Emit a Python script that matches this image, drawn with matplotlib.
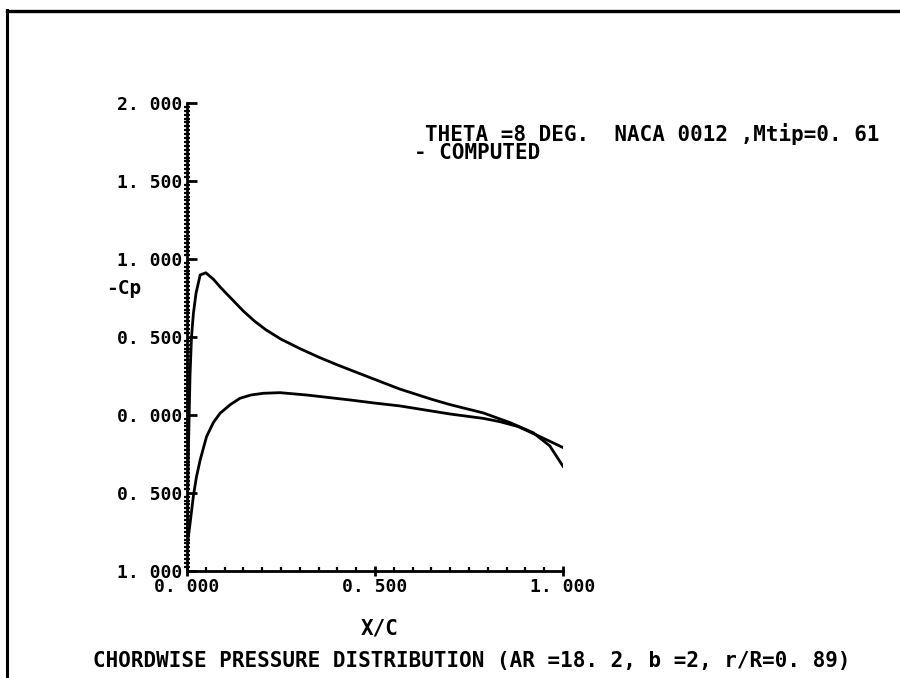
import numpy as np
import matplotlib.pyplot as plt
from matplotlib.lines import Line2D
from matplotlib.ticker import MultipleLocator, FixedLocator

# -Cp along the chord, upper and lower surface
x_upper = [0.0, 0.004, 0.008, 0.012, 0.017, 0.024, 0.035, 0.05, 0.07, 0.09,
           0.12, 0.15, 0.18, 0.21, 0.25, 0.30, 0.35, 0.40, 0.48, 0.566,
           0.65, 0.70, 0.788, 0.859, 0.921, 0.965, 1.0]
cp_upper = [-0.75, -0.2, 0.25, 0.5, 0.65, 0.78, 0.897, 0.911, 0.87, 0.815,
            0.74, 0.665, 0.60, 0.545, 0.485, 0.425, 0.37, 0.32, 0.245, 0.165,
            0.10, 0.065, 0.012, -0.05, -0.115, -0.2, -0.33]

x_lower = [0.0, 0.008, 0.017, 0.025, 0.035, 0.052, 0.07, 0.088, 0.115, 0.141,
           0.17, 0.203, 0.247, 0.318, 0.38, 0.434, 0.50, 0.566, 0.70, 0.788,
           0.832, 0.88, 0.93, 1.0]
cp_lower = [-0.85, -0.7, -0.52, -0.4, -0.29, -0.14, -0.05, 0.01, 0.065, 0.106,
            0.127, 0.138, 0.142, 0.127, 0.110, 0.095, 0.075, 0.057, 0.005, -0.023,
            -0.044, -0.075, -0.13, -0.21]

y_ticks = [2.0, 1.5, 1.0, 0.5, 0.0, -0.5, -1.0]
y_labels = ['2. 000', '1. 500', '1. 000', '0. 500', '0. 000', '0. 500', '1. 000']
x_ticks = [0.0, 0.5, 1.0]
x_labels = ['0. 000', '0. 500', '1. 000']

FONT = 'DejaVu Sans Mono'
plt.rcParams['font.family'] = FONT
plt.rcParams['font.weight'] = 'bold'

W, H = 900, 678
fig = plt.figure(figsize=(9, 6.78), dpi=100)
ax = fig.add_axes([187 / W, 1 - 570.7 / H, 376 / W, 467.7 / H])

ax.plot(x_upper, cp_upper, color='black', lw=2.0, solid_joinstyle='round')
ax.plot(x_lower, cp_lower, color='black', lw=2.0, solid_joinstyle='round')

ax.set_xlim(0, 1)
ax.set_ylim(-1, 2)
for side in ['top', 'right']:
    ax.spines[side].set_visible(False)
for side in ['left', 'bottom']:
    ax.spines[side].set_linewidth(2.0)

ax.yaxis.set_major_locator(FixedLocator(y_ticks))
ax.set_yticklabels(y_labels, fontsize=13, fontweight='bold')
ax.yaxis.set_minor_locator(MultipleLocator(0.025))
ax.tick_params(axis='y', which='major', direction='in', length=7, width=2, pad=3.5)
ax.tick_params(axis='y', which='minor', direction='inout', length=5, width=1.6)

ax.xaxis.set_major_locator(FixedLocator(x_ticks))
ax.set_xticklabels(x_labels, fontsize=13, fontweight='bold')
ax.xaxis.set_minor_locator(MultipleLocator(0.05))
ax.tick_params(axis='x', which='major', direction='inout', length=7, width=2, pad=1.5)
ax.tick_params(axis='x', which='minor', direction='in', length=3, width=1.6)
ax.patch.set_alpha(0)


def px(x, y):
    return x / W, 1 - y / H


fig.text(*px(106, 289), '-Cp', fontsize=14, fontweight='bold', va='center', ha='left')
fig.text(*px(425, 134), 'THETA =8 DEG.  NACA 0012 ,Mtip=0. 61',
         fontsize=15, fontweight='bold', va='center', ha='left')
fig.text(*px(414, 153), '- COMPUTED', fontsize=15, fontweight='bold', va='center', ha='left')
fig.text(*px(380, 628), 'X/C', fontsize=15, fontweight='bold', va='center', ha='center')
fig.text(*px(472, 661), 'CHORDWISE PRESSURE DISTRIBUTION (AR =18. 2, b =2, r/R=0. 89)',
         fontsize=15, fontweight='bold', va='center', ha='center')

# page frame
fig.add_artist(Line2D([7 / W, 7 / W], [0, 1 - 10 / H], color='black', lw=2.2))
fig.add_artist(Line2D([7 / W, 1], [1 - 11 / H, 1 - 11 / H], color='black', lw=2.4))

fig.savefig('out.png', dpi=100)
